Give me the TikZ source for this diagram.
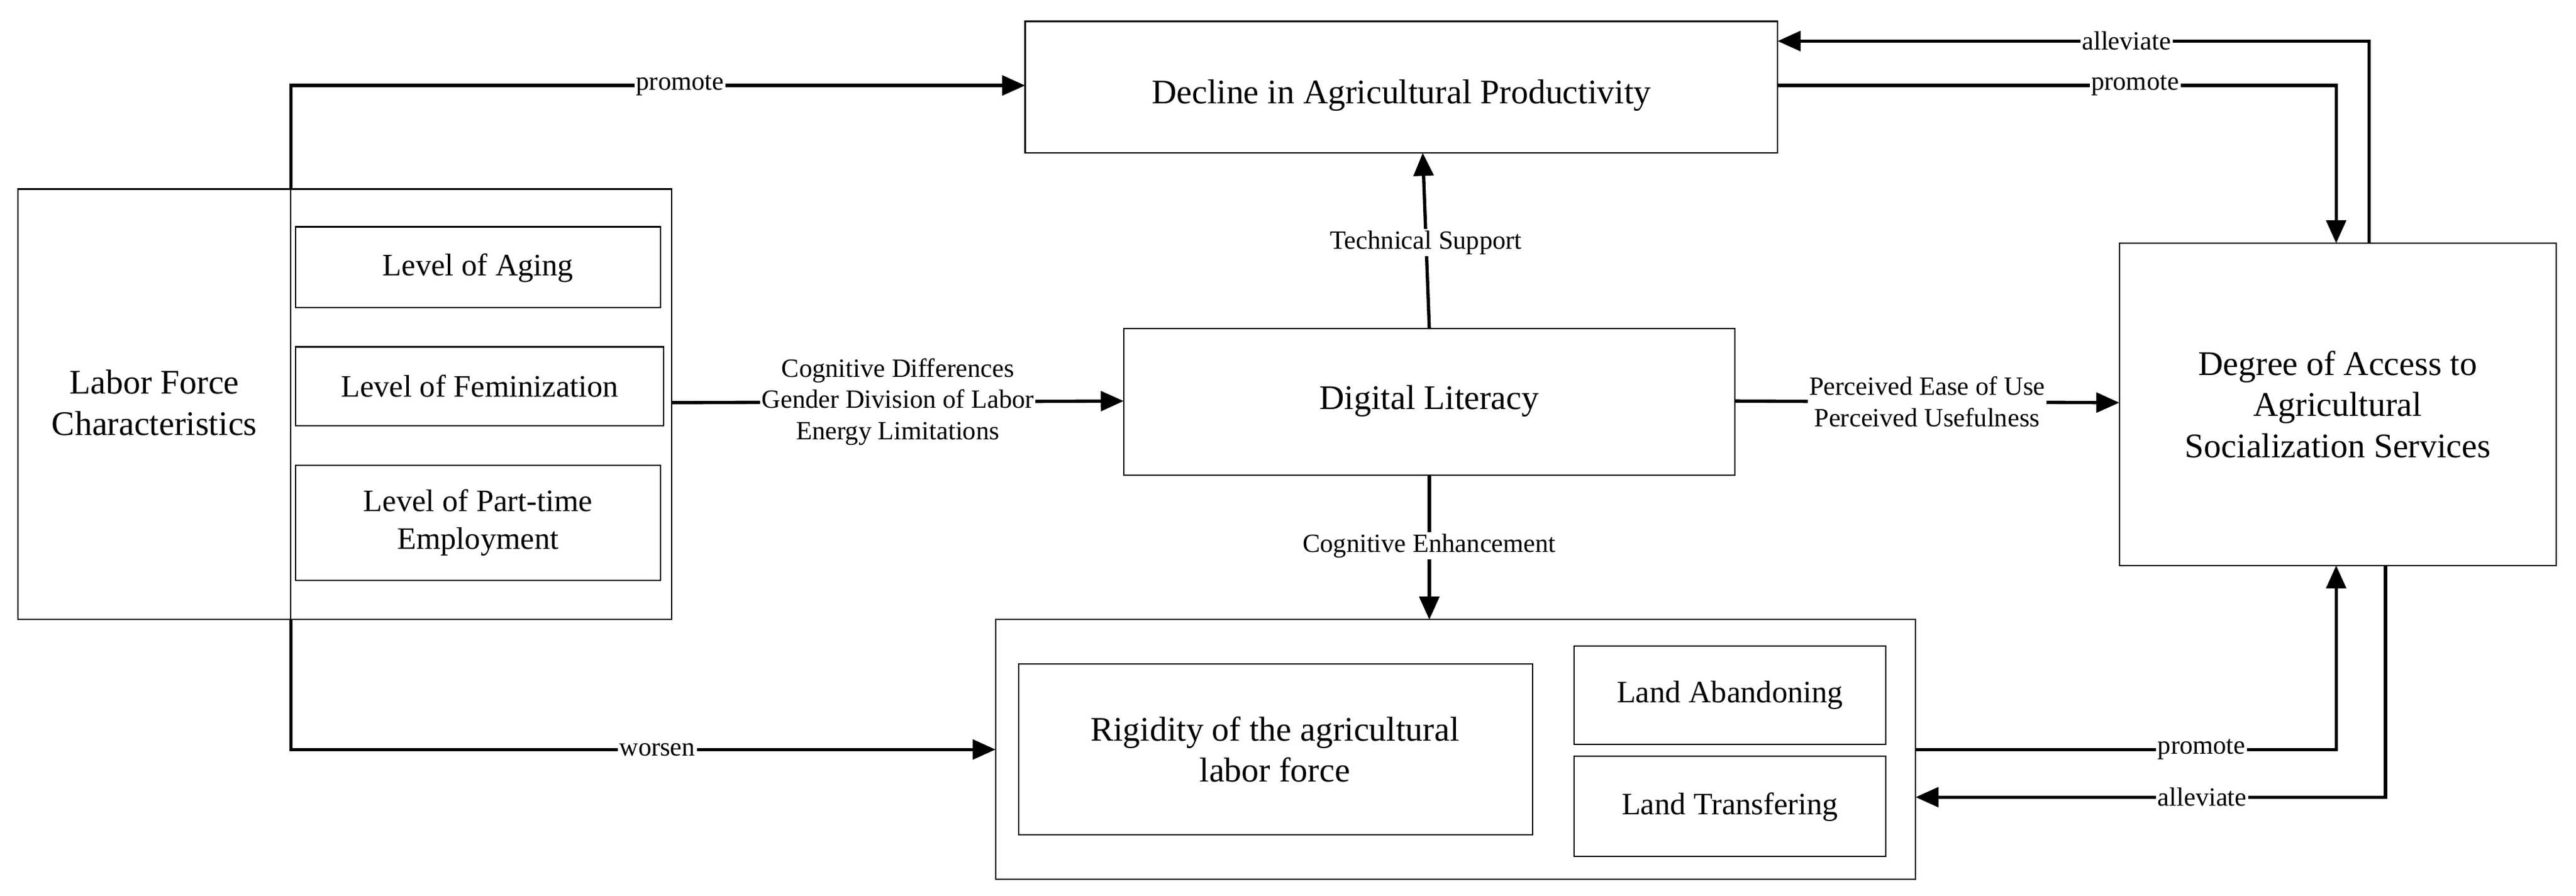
\documentclass[tikz,border=0pt]{standalone}
\usepackage{fontspec}
\setmainfont{Liberation Serif}
\usetikzlibrary{arrows.meta}
\begin{document}
\begin{tikzpicture}[x=1pt,y=-1pt,
  box/.style={draw,line width=0.8pt,inner sep=0pt},
  big/.style={font=\fontsize{21}{25}\selectfont,align=center},
  mid/.style={font=\fontsize{19}{23}\selectfont,align=center},
  lab/.style={font=\fontsize{16}{19}\selectfont,fill=white,inner sep=1pt,align=center},
  arr/.style={line width=2pt,-{Triangle[length=14pt,width=12pt]}}]
\useasboundingbox (0,0) rectangle (1568,545);
% boxes
\draw[box] (624,13) rectangle (1082,93); \node[big] (dec) at (853,58) {Decline in Agricultural Productivity};
\draw[box] (11,115) rectangle (409,377); \draw[line width=0.8pt] (177,115) -- (177,377);
\node[big] (lab) at (94,245) {Labor Force\\Characteristics};
\draw[box] (180,138) rectangle (402,187); \node[mid] (ag) at (291,163) {Level of Aging};
\draw[box] (180,211) rectangle (404,259); \node[mid] (fe) at (292,235) {Level of Feminization};
\draw[box] (180,283) rectangle (402,353); \node[mid] (pt) at (291,318) {Level of Part-time\\Employment};
\draw[box] (684,200) rectangle (1056,289); \node[big] (dl) at (870,244) {Digital Literacy};
\draw[box] (1290,148) rectangle (1556,344); \node[big] (deg) at (1423,246) {Degree of Access to\\Agricultural\\Socialization Services};
\draw[box] (606,377) rectangle (1166,535);
\draw[box] (620,404) rectangle (933,508); \node[big] (rig) at (776,456) {Rigidity of the agricultural\\labor force};
\draw[box] (958,393) rectangle (1148,453); \node[mid] (la) at (1053,423) {Land Abandoning};
\draw[box] (958,460) rectangle (1148,521); \node[mid] (lt) at (1053,491) {Land Transfering};
% coordinates
\coordinate (p1) at (177,115); \coordinate (p2) at (177,52); \coordinate (p3) at (624,52);
\coordinate (w1) at (177,377); \coordinate (w2) at (177,456); \coordinate (w3) at (606,456);
% arrows
\draw[arr] (p1) -- (p2) -- node[lab,pos=0.53]{promote} (p3);
\draw[arr] (w1) -- (w2) -- node[lab,pos=0.52]{worsen} (w3);
\draw[arr] (409,245) -- node[lab,pos=0.5]{Cognitive Differences\\Gender Division of Labor\\Energy Limitations} (684,244);
\draw[arr] (870,200) -- node[lab,pos=0.49]{Technical Support} (866,93);
\draw[arr] (870,289) -- node[lab,pos=0.49]{Cognitive Enhancement} (870,377);
\draw[arr] (1056,244) -- node[lab,pos=0.5]{Perceived Ease of Use\\Perceived Usefulness} (1290,245);
\draw[arr] (1082,52) -- node[lab,pos=0.64]{promote} (1422,52) -- (1422,148);
\draw[arr] (1442,148) -- (1442,25) -- node[lab,pos=0.41]{alleviate} (1082,25);
\draw[arr] (1166,456) -- node[lab,pos=0.68]{promote} (1422,456) -- (1422,344);
\draw[arr] (1452,344) -- (1452,485) -- node[lab,pos=0.39]{alleviate} (1166,485);
\end{tikzpicture}
\end{document}
